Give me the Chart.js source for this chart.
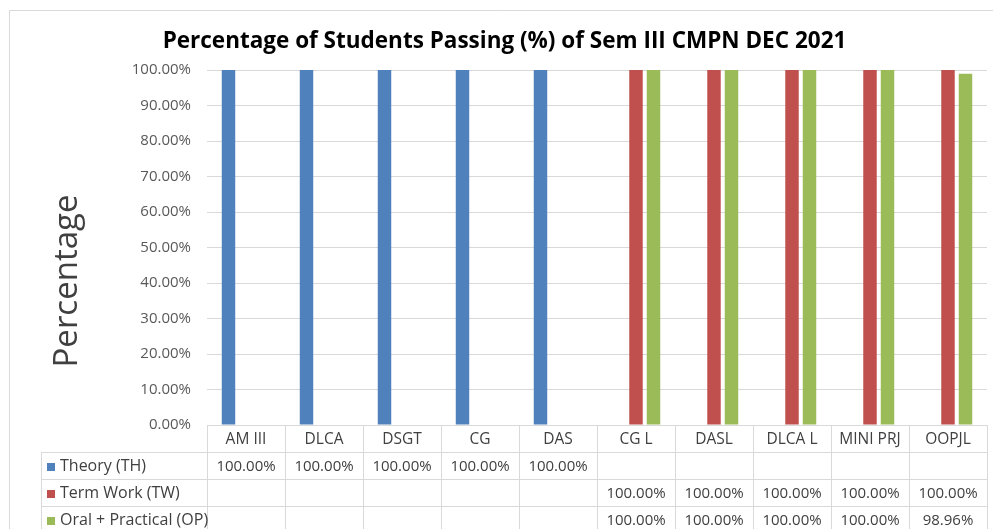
<!DOCTYPE html>
<html>
<head>
<meta charset="utf-8">
<script src="https://cdn.jsdelivr.net/npm/chart.js@4"></script>
<style>
  html, body { margin: 0; padding: 0; background: #fff; }
  canvas { display: block; }
</style>
</head>
<body>
<canvas id="chart" width="993" height="529"></canvas>
<script>
const categories = ['AM III', 'DLCA', 'DSGT', 'CG', 'DAS', 'CG L', 'DASL', 'DLCA L', 'MINI PRJ', 'OOPJL'];
const theory = [100, 100, 100, 100, 100, null, null, null, null, null];
const termWork = [null, null, null, null, null, 100, 100, 100, 100, 100];
const oralPractical = [null, null, null, null, null, 100, 100, 100, 100, 98.96];
const seriesNames = ['Theory (TH)', 'Term Work (TW)', 'Oral + Practical (OP)'];
const seriesColors = ['#4f81bd', '#c0504d', '#9bbb59'];
const yTitle = 'Percentage';

const FONT = "'Open Sans', 'Liberation Sans', sans-serif";
const GRID = '#d9d9d9';
const fmt = v => v.toFixed(2) + '%';

// outer chart frame + the vertical axis title (excel puts it a bit lower than the plot centre)
const frame = {
    id: 'frame',
    beforeDraw(chart) {
        const ctx = chart.ctx;
        ctx.save();
        ctx.strokeStyle = GRID;
        ctx.lineWidth = 1;
        ctx.beginPath();
        ctx.moveTo(9.5, chart.height);
        ctx.lineTo(9.5, 10.5);
        ctx.lineTo(chart.width, 10.5);
        ctx.stroke();

        ctx.translate(68, 281);
        ctx.rotate(-Math.PI / 2);
        ctx.font = '33px ' + FONT;
        ctx.fillStyle = '#404040';
        ctx.textAlign = 'center';
        ctx.textBaseline = 'middle';
        ctx.fillText(yTitle, 0, 0);
        ctx.restore();
    }
};

// data table under the plot (excel "data table" style)
const dataTable = {
    id: 'dataTable',
    afterDraw(chart) {
        const {ctx, chartArea} = chart;
        const top = chartArea.bottom;
        const rowH = 27;
        const tableLeft = 41;
        const n = categories.length;
        const w = (chartArea.right - chartArea.left) / n;
        const bottom = chart.height;

        ctx.save();
        ctx.strokeStyle = GRID;
        ctx.lineWidth = 1;
        ctx.beginPath();
        ctx.moveTo(chartArea.left, top + 0.5);
        ctx.lineTo(chartArea.right, top + 0.5);
        for (let r = 1; r <= 3; r++) {
            const y = Math.round(top + r * rowH) + 0.5;
            ctx.moveTo(tableLeft, y);
            ctx.lineTo(chartArea.right, y);
        }
        for (let i = 0; i <= n; i++) {
            const x = Math.round(chartArea.left + i * w) + 0.5;
            ctx.moveTo(x, top);
            ctx.lineTo(x, bottom);
        }
        ctx.moveTo(tableLeft + 0.5, top + rowH);
        ctx.lineTo(tableLeft + 0.5, bottom);
        ctx.stroke();

        ctx.fillStyle = '#404040';
        ctx.textBaseline = 'middle';
        ctx.textAlign = 'center';
        ctx.font = '15.5px ' + FONT;
        categories.forEach((c, i) => {
            ctx.fillText(c, chartArea.left + (i + 0.5) * w, top + rowH / 2 + 1);
        });

        chart.data.datasets.forEach((ds, r) => {
            const yc = top + (r + 1.5) * rowH + 1;
            ctx.fillStyle = seriesColors[r];
            ctx.fillRect(47, Math.round(yc - 4), 8, 8);
            ctx.fillStyle = '#404040';
            ctx.textAlign = 'left';
            ctx.font = '16px ' + FONT;
            ctx.fillText(seriesNames[r], 60, yc);
            ctx.textAlign = 'center';
            ctx.font = '15px ' + FONT;
            ds.data.forEach((v, i) => {
                if (v == null) return;
                ctx.fillText(fmt(v), chartArea.left + (i + 0.5) * w, yc);
            });
        });
        ctx.restore();
    }
};

new Chart(document.getElementById('chart'), {
    type: 'bar',
    data: {
        labels: categories,
        datasets: [theory, termWork, oralPractical].map((d, i) => ({
            label: seriesNames[i],
            data: d,
            backgroundColor: seriesColors[i],
            categoryPercentage: 0.673,
            barPercentage: 0.77
        }))
    },
    options: {
        responsive: false,
        animation: false,
        // left padding shifts the title centre to where excel put it
        layout: { padding: { left: 22, right: 6, top: 0, bottom: 104 } },
        plugins: {
            legend: { display: false },
            tooltip: { enabled: false },
            title: {
                display: true,
                text: 'Percentage of Students Passing (%) of Sem III CMPN DEC 2021',
                color: '#000',
                font: { family: FONT, size: 22.5, weight: 'bold', lineHeight: 1.2 },
                padding: { top: 28.5, bottom: 14.5 }
            }
        },
        scales: {
            x: { display: false },
            y: {
                min: 0,
                max: 100,
                ticks: {
                    stepSize: 10,
                    padding: 16,
                    color: '#595959',
                    font: { family: FONT, size: 15 },
                    callback: v => fmt(v)
                },
                grid: { color: GRID, drawTicks: false },
                border: { display: false },
                afterFit(scale) { scale.width = 185; }
            }
        }
    },
    plugins: [frame, dataTable]
});
</script>
</body>
</html>
